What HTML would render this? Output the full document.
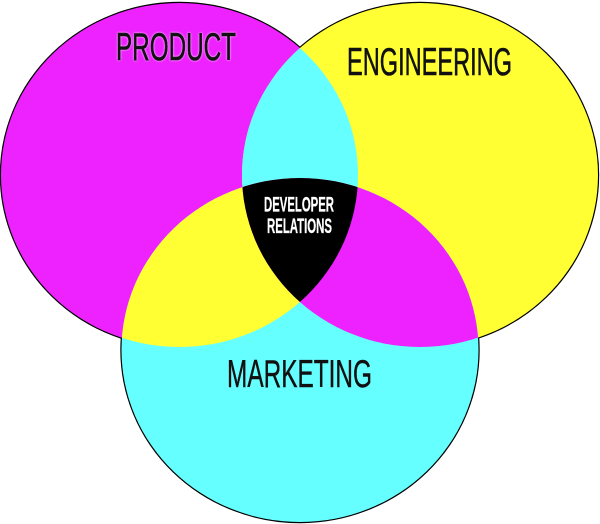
<!DOCTYPE html>
<html>
<head>
<meta charset="utf-8">
<style>
html,body{margin:0;padding:0;background:#fff;width:600px;height:524px;overflow:hidden}
svg{display:block}
text{font-family:"Liberation Sans Narrow","Liberation Sans",sans-serif;text-anchor:start}
</style>
</head>
<body>
<svg width="600" height="524" viewBox="0 0 600 524" xmlns="http://www.w3.org/2000/svg">
<defs>
<clipPath id="cl"><ellipse cx="179.5" cy="175" rx="178.5" ry="172"/></clipPath>
<clipPath id="cr"><ellipse cx="420" cy="175" rx="178" ry="172"/></clipPath>
</defs>
<g stroke="#000" stroke-width="2.4" fill="none">
<ellipse cx="179.5" cy="175" rx="178.5" ry="172"/>
<ellipse cx="420" cy="175" rx="178" ry="172"/>
<ellipse cx="300" cy="350" rx="178.5" ry="172"/>
</g>
<ellipse cx="179.5" cy="175" rx="178.5" ry="172" fill="#ee22ff"/>
<ellipse cx="420" cy="175" rx="178" ry="172" fill="#ffff33"/>
<ellipse cx="300" cy="350" rx="178.5" ry="172" fill="#66ffff"/>
<g clip-path="url(#cl)"><ellipse cx="420" cy="175" rx="178" ry="172" fill="#66ffff"/></g>
<g clip-path="url(#cl)"><ellipse cx="300" cy="350" rx="178.5" ry="172" fill="#ffff33"/></g>
<g clip-path="url(#cr)"><ellipse cx="300" cy="350" rx="178.5" ry="172" fill="#ee22ff"/></g>
<g clip-path="url(#cl)"><g clip-path="url(#cr)"><ellipse cx="300" cy="350" rx="178.5" ry="172" fill="#000"/></g></g>
<text x="116" y="60" font-size="39" textLength="120" lengthAdjust="spacingAndGlyphs" fill="#111" stroke="#111" stroke-width="0.6" style="filter:drop-shadow(0 0 1px rgba(255,255,255,.9))">PRODUCT</text>
<text x="347" y="75" font-size="39" textLength="165" lengthAdjust="spacingAndGlyphs" fill="#111" stroke="#111" stroke-width="0.6">ENGINEERING</text>
<text x="227" y="387" font-size="38.5" textLength="145" lengthAdjust="spacingAndGlyphs" fill="#111" stroke="#111" stroke-width="0.4">MARKETING</text>
<text x="264" y="211.5" font-size="21" font-weight="bold" textLength="70" lengthAdjust="spacingAndGlyphs" fill="#fff" stroke="#fff" stroke-width="0.3">DEVELOPER</text>
<text x="267" y="233" font-size="21" font-weight="bold" textLength="65" lengthAdjust="spacingAndGlyphs" fill="#fff" stroke="#fff" stroke-width="0.3">RELATIONS</text>
</svg>
</body>
</html>
